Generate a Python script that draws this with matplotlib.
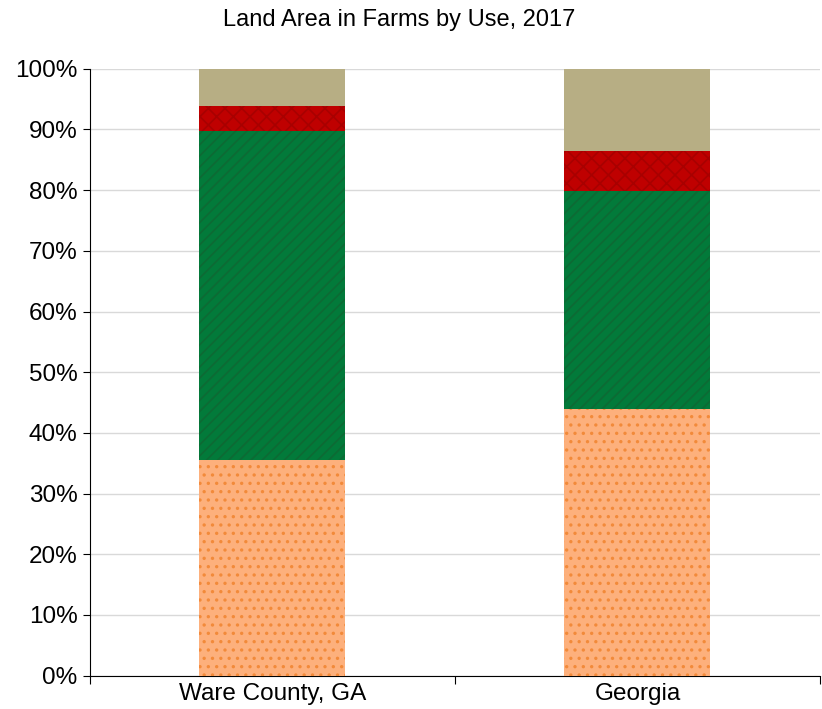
import matplotlib
matplotlib.use("Agg")
import matplotlib.pyplot as plt
import numpy as np

plt.rcParams['font.family'] = ['Liberation Sans', 'DejaVu Sans']
plt.rcParams['hatch.linewidth'] = 1.2

categories = ["Ware County, GA", "Georgia"]
# shares of land in farms (percent), bottom to top
cropland = [35.6, 44.0]
woodland = [54.2, 35.9]
pasture = [4.1, 6.6]
other = [6.1, 13.5]

layers = [
    (cropland, "#fdb07c", "#f28a3a", ".."),
    (woodland, "#027a3a", "#0d6a34", "///"),
    (pasture, "#bf0000", "#a80000", "xx"),
    (other, "#b7ae84", "#b7ae84", ""),
]

fig = plt.figure(figsize=(8.22, 7.09), dpi=100)
ax = fig.add_axes([0.1095, 0.047, 0.888, 0.856])

x = np.arange(len(categories))
bottom = np.zeros(len(categories))
for vals, face, hatchcol, hatch in layers:
    vals = np.array(vals)
    ax.bar(x, vals, 0.4, bottom=bottom, color=face, edgecolor=hatchcol,
           hatch=hatch, linewidth=0, zorder=3)
    bottom += vals

ax.set_xlim(-0.5, 1.5)
ax.set_ylim(0, 100)
ax.set_yticks(np.arange(0, 101, 10))
ax.set_yticklabels(["{}%".format(v) for v in range(0, 101, 10)], fontsize=17.5)
ax.set_xticks([-0.5, 0.5, 1.5])
ax.set_xticklabels([])
ax.set_xticks(x, minor=True)
ax.set_xticklabels(categories, minor=True, fontsize=17.5)
ax.tick_params(axis='x', which='minor', length=0, pad=5)
ax.tick_params(axis='x', which='major', length=6, direction='out')
ax.tick_params(axis='y', length=5, direction='out', pad=4)
ax.yaxis.grid(True, color="#d9d9d9", linewidth=1, zorder=0)
ax.spines['top'].set_visible(False)
ax.spines['right'].set_visible(False)
fig.text(399 / 822, 1 - 20 / 709, "Land Area in Farms by Use, 2017",
         fontsize=17, ha='center', va='center')

fig.savefig("out.png", dpi=100)
